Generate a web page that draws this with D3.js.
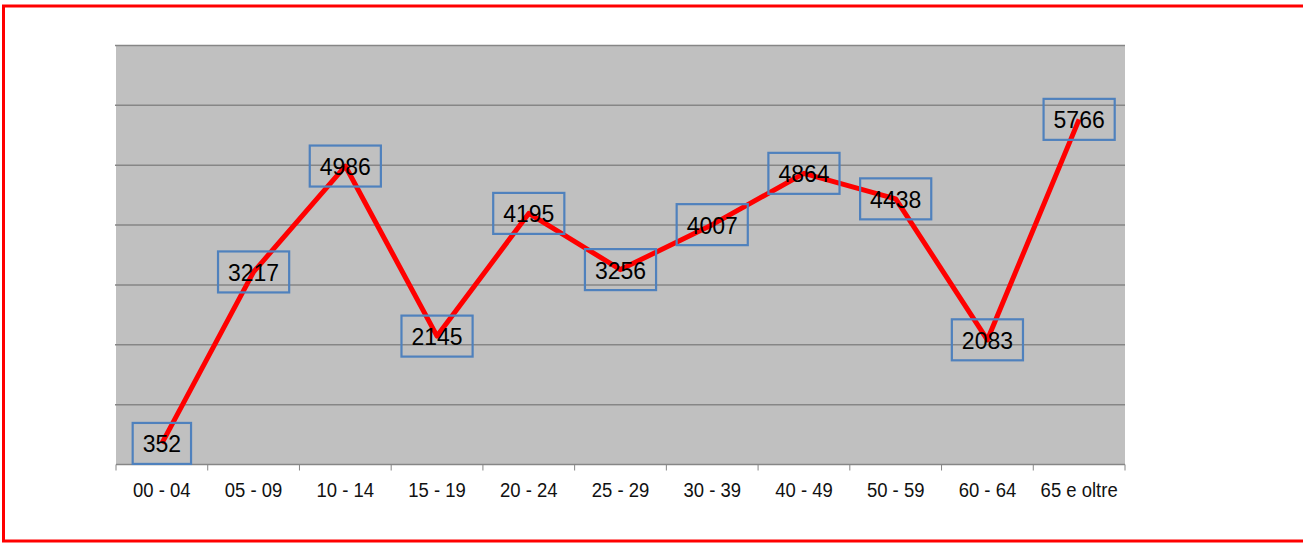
<!DOCTYPE html>
<html>
<head>
<meta charset="utf-8">
<script src="https://cdn.jsdelivr.net/npm/d3@7"></script>
<style>
  body { margin: 0; background: #fff; }
  svg { display: block; }
</style>
</head>
<body>
<svg width="1303" height="543"></svg>
<script>
const categories = ['00 - 04', '05 - 09', '10 - 14', '15 - 19', '20 - 24', '25 - 29', '30 - 39', '40 - 49', '50 - 59', '60 - 64', '65 e oltre']
const values = [352, 3217, 4986, 2145, 4195, 3256, 4007, 4864, 4438, 2083, 5766]
const yTicks = [0, 1000, 2000, 3000, 4000, 5000, 6000, 7000]

const width = 1303
const height = 543
const margin = { top: 45.5, right: 178, bottom: 78.5, left: 116 }

const svg = d3.select('svg')

// outer frame (right side falls outside the picture)
svg.append('rect')
  .attr('x', 3.5)
  .attr('y', 6)
  .attr('width', width + 10)
  .attr('height', 535)
  .attr('fill', 'none')
  .attr('stroke', '#ff0000')
  .attr('stroke-width', 3)

const xScale = d3.scaleBand(categories, [margin.left, width - margin.right])
const yScale = d3.scaleLinear([0, 7000], [height - margin.bottom, margin.top])

// plot background
svg.append('rect')
  .attr('x', margin.left)
  .attr('y', margin.top)
  .attr('width', width - margin.right - margin.left)
  .attr('height', yScale(0) - margin.top)
  .attr('fill', '#c0c0c0')

// gridlines
svg.append('g')
  .selectAll('line')
  .data(yTicks.slice(1))
  .join('line')
  .attr('x1', margin.left - 1)
  .attr('x2', width - margin.right)
  .attr('y1', d => yScale(d))
  .attr('y2', d => yScale(d))
  .attr('stroke', '#868686')
  .attr('stroke-width', 1.5)

// x axis
const xAxisEl = svg.append('g')
  .attr('transform', `translate(0,${ yScale(0) })`)
xAxisEl.append('line')
  .attr('x1', margin.left)
  .attr('x2', width - margin.right)
  .attr('stroke', '#868686')
  .attr('stroke-width', 1.5)
xAxisEl.selectAll('.tick-mark')
  .data([...categories.map(c => xScale(c)), width - margin.right])
  .join('line')
  .attr('x1', d => d)
  .attr('x2', d => d)
  .attr('y1', 0)
  .attr('y2', 6)
  .attr('stroke', '#868686')
  .attr('stroke-width', 1)
xAxisEl.selectAll('text')
  .data(categories)
  .join('text')
  .attr('transform', d => `translate(${ xScale(d) + xScale.bandwidth() / 2 },32) scale(1,1.1)`)
  .attr('text-anchor', 'middle')
  .attr('font-family', 'Liberation Sans, Arial, sans-serif')
  .attr('font-size', 18.5)
  .attr('fill', '#111')
  .text(d => d)

const cx = (d, i) => xScale(categories[i]) + xScale.bandwidth() / 2

// line
const line = d3.line()
  .x((d, i) => cx(d, i))
  .y(d => yScale(d))
svg.append('path')
  .datum(values)
  .attr('d', line)
  .attr('fill', 'none')
  .attr('stroke', '#ff0000')
  .attr('stroke-width', 5)
  .attr('stroke-linejoin', 'round')

// data labels
const labels = svg.append('g')
  .selectAll('g')
  .data(values)
  .join('g')
  .attr('transform', (d, i) => `translate(${ cx(d, i) },${ yScale(d) })`)

labels.append('text')
  .attr('text-anchor', 'middle')
  .attr('transform', 'scale(1,1.08)')
  .attr('dy', '0.36em')
  .attr('font-family', 'Liberation Sans, Arial, sans-serif')
  .attr('font-size', 23)
  .attr('fill', '#000')
  .text(d => d)

labels.each(function () {
  const g = d3.select(this)
  const bb = g.select('text').node().getBBox()
  g.insert('rect', 'text')
    .attr('x', bb.x - 10)
    .attr('y', -20.5)
    .attr('width', bb.width + 20)
    .attr('height', 41)
    .attr('fill', 'none')
    .attr('stroke', '#4f81bd')
    .attr('stroke-width', 2.2)
})
</script>
</body>
</html>
